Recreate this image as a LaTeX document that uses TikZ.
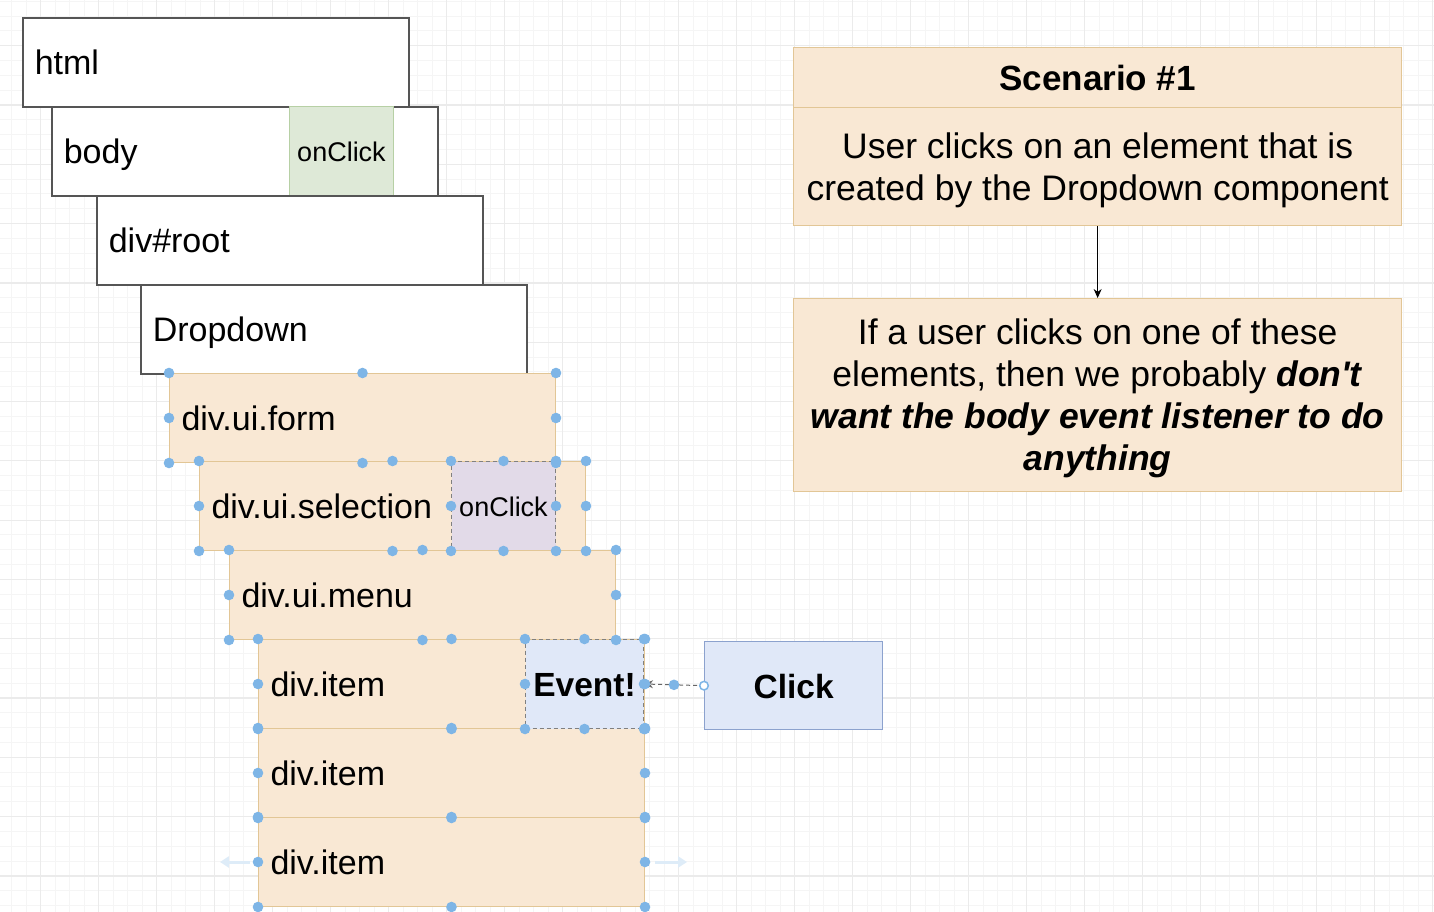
\documentclass[tikz,border=0pt]{standalone}
\usepackage{fontspec}
\setmainfont{Liberation Sans}
\usetikzlibrary{arrows.meta,calc}

\definecolor{formfill}{RGB}{249,232,212}
\definecolor{formline}{RGB}{226,198,150}
\definecolor{greenfill}{RGB}{222,233,215}
\definecolor{greenline}{RGB}{183,208,165}
\definecolor{purplefill}{RGB}{226,218,232}
\definecolor{bluefill}{RGB}{224,232,248}
\definecolor{blueline}{RGB}{140,162,206}
\definecolor{handleblue}{RGB}{126,181,230}
\definecolor{hoverblue}{RGB}{222,236,248}
\definecolor{gridminor}{RGB}{245,245,245}
\definecolor{gridmajor}{RGB}{235,235,235}
\definecolor{boxline}{RGB}{85,85,85}

% lifts the first line of a note a little
\newcommand{\notestrut}{\rule{0pt}{33pt}}

\tikzset{
  elem/.style={draw=boxline, line width=1.6pt, fill=white, anchor=north west,
    minimum width=386pt, minimum height=89pt, text width=362pt, inner xsep=12pt,
    inner ysep=0pt, text height=31pt, text depth=6pt, align=left,
    font=\fontsize{34}{40}\selectfont},
  formel/.style={elem, draw=formline, line width=1pt, fill=formfill},
  handlerbox/.style={anchor=north west, minimum width=104pt, minimum height=89pt,
    inner sep=0pt, text height=25pt, text depth=4pt, font=\fontsize{27}{32}\selectfont},
  selected/.style={draw=gray, line width=1pt, dash pattern=on 4pt off 3pt},
  notebox/.style={draw=formline, line width=1.3pt, fill=formfill, anchor=north west,
    minimum width=608pt, inner sep=0pt, align=center,
    font=\fontsize{35.5}{42}\selectfont},
  handle/.style={fill=handleblue},
  hoverarrow/.style={draw=hoverblue, line width=3pt, -{Triangle[length=9pt,width=11pt]}}
}

\begin{document}
\begin{tikzpicture}[x=1pt,y=-1pt]
  \useasboundingbox (0,0) rectangle (1434,912);
  \fill[white] (0,0) rectangle (1434,912);

  % background grid
  \begin{scope}
    \clip (0,0) rectangle (1434,912);
    \foreach \k in {-3,...,96}
      \draw[gridminor, line width=1pt] ({40.7+14.5*\k},0) -- ({40.7+14.5*\k},912);
    \foreach \k in {-3,...,59}
      \draw[gridminor, line width=1pt] (0,{45.7+14.825*\k}) -- (1434,{45.7+14.825*\k});
    \foreach \k in {-1,...,24}
      \draw[gridmajor, line width=1.2pt] ({40.7+58*\k},0) -- ({40.7+58*\k},912);
    \foreach \k in {-1,...,15}
      \draw[gridmajor, line width=1.2pt] (0,{45.7+59.3*\k}) -- (1434,{45.7+59.3*\k});
  \end{scope}

  % element tree
  \node[elem] (html) at (22,17) {html};
  \node[elem] (body) at (51,106) {body};
  \node[handlerbox, draw=greenline, line width=1pt, fill=greenfill] (bodyclick) at (289,106) {onClick};
  \node[elem] (root) at (96,195) {div\#root};
  \node[elem] (dropdown) at (140,284) {Dropdown};
  \node[formel] (form) at (169,373) {div.ui.form};
  \node[formel] (sel) at (199,461) {div.ui.selection};
  \node[handlerbox, selected, fill=purplefill] (selclick) at (451,461) {onClick};
  \node[formel] (menu) at (229,550) {div.ui.menu};
  \node[formel] (itemA) at (258,639) {div.item};
  \node[formel] (itemB) at (258,728) {div.item};
  \node[formel] (itemC) at (258,817) {div.item};
  \node[selected, fill=bluefill, anchor=north west, minimum width=118pt, minimum height=89pt,
    inner sep=0pt, text height=31pt, text depth=6pt,
    font=\bfseries\fontsize{33.5}{40}\selectfont] (event) at (525,639) {Event!};

  % the click
  \node[draw=blueline, line width=1.3pt, fill=bluefill, anchor=north west, minimum width=178pt,
    minimum height=88pt, inner sep=0pt, text height=31pt, text depth=6pt,
    font=\bfseries\fontsize{33.5}{40}\selectfont] (click) at (704,641) {Click};
  \draw[gray!80!black, line width=1pt, dash pattern=on 4pt off 3pt, -{Stealth[length=9pt,width=8pt]}] (click.west) -- (event.east);

  % scenario notes
  \node[notebox, minimum height=60pt, text height=31pt, text depth=6pt,
    font=\bfseries\fontsize{35}{42}\selectfont] (scen) at (793,47) {Scenario \#1};
  \node[notebox, minimum height=118pt] (scendesc) at (793,107) {\notestrut User clicks on an element that is\\created by the Dropdown component};
  \node[notebox, minimum height=193pt] (result) at (793,298) {\notestrut If a user clicks on one of these\\elements, then we probably \textbf{\textit{don\textquotesingle t}}\\\textbf{\textit{want the body event listener to do}}\\\textbf{\textit{anything}}};
  \draw[black, line width=1pt, -{Stealth[length=9pt,width=8pt]}] (scendesc.south) -- (result.north);

  % selection handles
  \foreach \n in {form, sel, selclick, menu, itemA, itemB, itemC, event}
    \foreach \a in {north west, north, north east, east, south east, south, south west, west}
      \fill[handle] (\n.\a) circle (5.3pt);
  \coordinate (edgemid) at ($(click.west)!0.5!(event.east)$);
  \fill[handle] (edgemid) circle (5.3pt);
  \draw[handleblue, line width=1.5pt, fill=white] (click.west) circle (4.3pt);

  % hover arrows
  \coordinate (hoverL) at ([xshift=-38pt]itemC.west);
  \coordinate (hoverR) at ([xshift=42pt]itemC.east);
  \draw[hoverarrow] ([xshift=-8pt]itemC.west) -- (hoverL);
  \draw[hoverarrow] ([xshift=10pt]itemC.east) -- (hoverR);
\end{tikzpicture}
\end{document}
